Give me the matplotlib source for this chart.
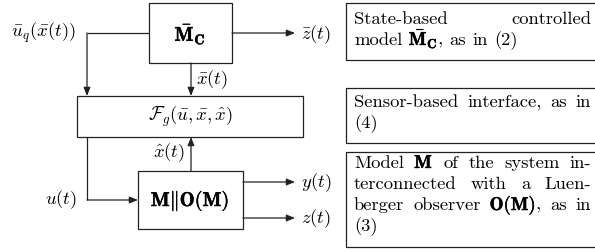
import matplotlib
matplotlib.use('Agg')
import matplotlib.pyplot as plt
from matplotlib.patches import Rectangle
import matplotlib.patheffects as pe

plt.rcParams['mathtext.fontset'] = 'cm'
plt.rcParams['font.family'] = 'cmr10'
plt.rcParams['axes.formatter.use_mathtext'] = True

# ===== TEXT =====
block_labels = [r'$\bar{\mathbf{M}}_{\mathbf{C}}$',
                r'$\mathcal{F}_g(\bar{u},\bar{x},\hat{x})$',
                r'$\mathbf{M}\|\mathbf{O}(\mathbf{M})$']
signal_labels = [r'$\bar{u}_q(\bar{x}(t))$', r'$\bar{x}(t)$', r'$\bar{z}(t)$',
                 r'$\hat{x}(t)$', r'$u(t)$', r'$y(t)$', r'$z(t)$']

box1_lines = [('State-based controlled', True),
              (r'model $\bar{\mathbf{M}}_{\mathbf{C}}$, as in (2)', False)]
box2_lines = [('Sensor-based interface, as in', True),
              ('(4)', False)]
box3_lines = [(r'Model $\mathbf{M}$ of the system in-', True),
              ('terconnected with a Luen-', True),
              (r'berger observer $\mathbf{O}(\mathbf{M})$, as in', True),
              ('(3)', False)]

FS = 13.4
LW = 0.9
COL = '#222222'
BOLD = [pe.withStroke(linewidth=0.35, foreground='black')]

fig = plt.figure(figsize=(5.95, 2.52), dpi=100)
ax = fig.add_axes([0, 0, 1, 1])
ax.set_xlim(0, 595)
ax.set_ylim(252, 0)
ax.axis('off')
renderer = fig.canvas.get_renderer()


def box(x0, y0, x1, y1):
    ax.add_patch(Rectangle((x0, y0), x1 - x0, y1 - y0, fill=False,
                           lw=LW, ec=COL))


def arrow(pts):
    xs = [p[0] for p in pts]
    ys = [p[1] for p in pts]
    ax.plot(xs[:-1], ys[:-1], color=COL, lw=LW, solid_capstyle='butt')
    ax.annotate('', xy=pts[-1], xytext=pts[-2],
                arrowprops=dict(arrowstyle='-|>,head_length=0.5,head_width=0.2',
                                color=COL, lw=LW, shrinkA=0, shrinkB=0))


def put(x, y, s, **kw):
    t = ax.text(x, y, s, fontsize=kw.pop('fontsize', FS), **kw)
    if r'\mathbf' in s:
        t.set_path_effects(BOLD)
    return t


def width_of(s):
    t = ax.text(0, 0, s, fontsize=FS)
    w = t.get_window_extent(renderer).width
    t.remove()
    return w


def word(x, y, w):
    # math part and trailing punctuation drawn apart
    if '$' in w and not w.endswith('$'):
        k = w.rindex('$') + 1
        a = put(x, y, w[:k], va='baseline', ha='left')
        wa = a.get_window_extent(renderer).width
        b = put(x + wa, y, w[k:], va='baseline', ha='left')
        return [a, b], wa + b.get_window_extent(renderer).width
    t = put(x, y, w, va='baseline', ha='left')
    return [t], t.get_window_extent(renderer).width


def write_lines(lines, x0, x1, y0, dy):
    space = width_of('a b') - width_of('ab')
    for i, (line, just) in enumerate(lines):
        y = y0 + i * dy
        merged = []
        buf = ''
        for w in line.split(' '):
            buf = w if buf == '' else buf + ' ' + w
            if buf.count('$') % 2 == 0:
                merged.append(buf)
                buf = ''
        placed = [word(0, y, w) for w in merged]
        widths = [p[1] for p in placed]
        gap = (x1 - x0 - sum(widths)) / (len(placed) - 1) if just else space
        x = x0
        for ts, w in placed:
            dx = x - ts[0].get_position()[0]
            for t in ts:
                t.set_x(t.get_position()[0] + dx)
            x += w + gap


# ===== BLOCKS =====
box(149, 3, 232, 63)
box(77, 96, 303, 137)
box(138, 171, 243, 229)
put(190, 34, block_labels[0], fontsize=FS + 1, ha='center', va='center')
put(190, 117, block_labels[1], ha='center', va='center')
put(190, 201, block_labels[2], fontsize=FS + 1, ha='center', va='center')

# ===== CONNECTIONS =====
arrow([(232, 33), (295, 33)])
arrow([(149, 33), (87, 33), (87, 96)])
arrow([(191, 63), (191, 96)])
arrow([(191, 171), (191, 137)])
arrow([(87, 137), (87, 200), (138, 200)])
arrow([(243, 182), (295, 182)])
arrow([(243, 218), (295, 218)])

put(43, 33, signal_labels[0], ha='center', va='center')
put(196, 80, signal_labels[1], ha='left', va='center')
put(301, 35, signal_labels[2], ha='left', va='center')
put(185, 153, signal_labels[3], ha='right', va='center')
put(61, 200, signal_labels[4], ha='center', va='center')
put(301, 183, signal_labels[5], ha='left', va='center')
put(301, 219, signal_labels[6], ha='left', va='center')

# ===== DESCRIPTION BOXES =====
box(346, 3, 600, 60)
box(346, 88, 600, 143)
box(346, 152, 600, 247)
write_lines(box1_lines, 354, 591, 24, 21)
write_lines(box2_lines, 354, 591, 107, 21)
write_lines(box3_lines, 354, 591, 168, 21)

fig.savefig('out.png', dpi=100)
